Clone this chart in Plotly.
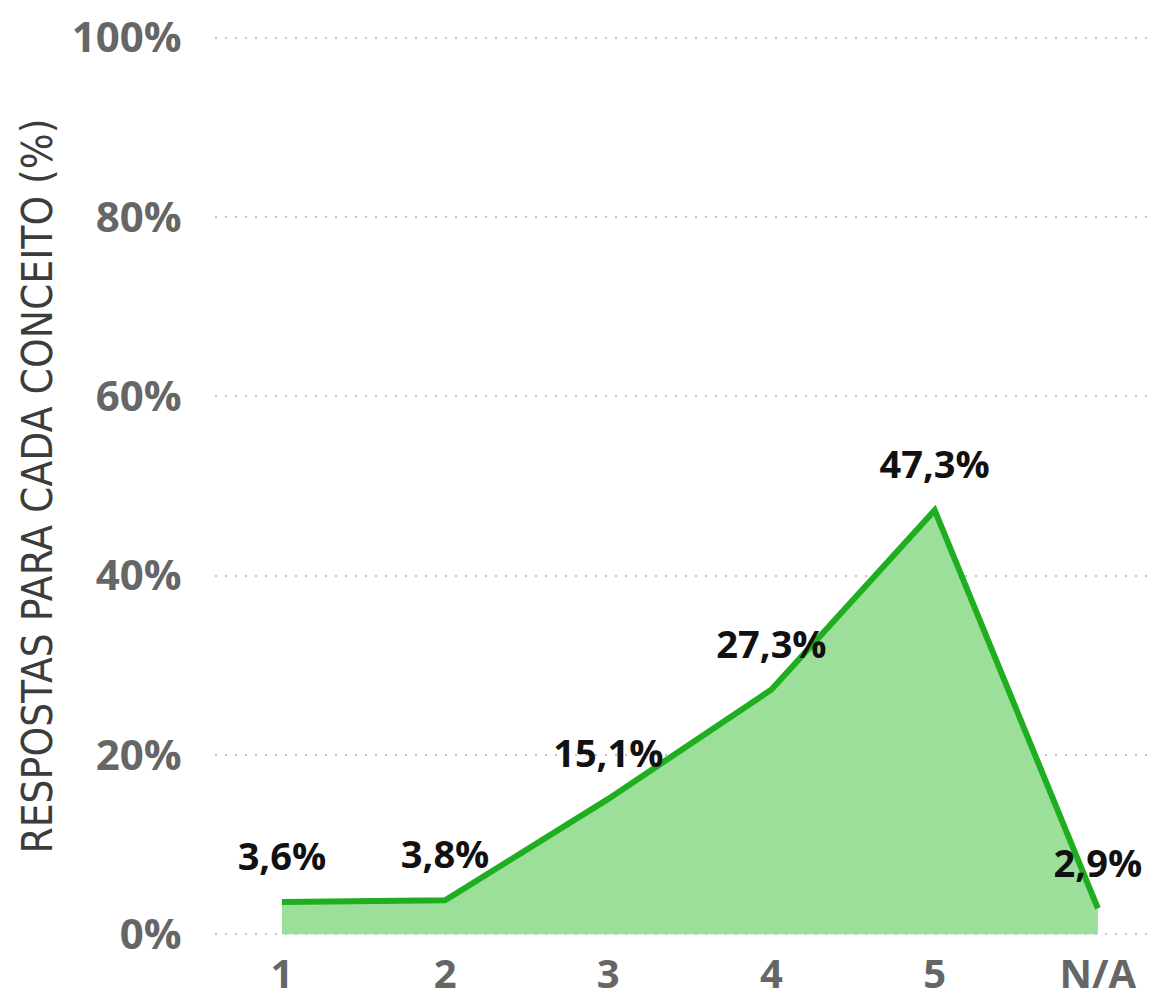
import plotly.graph_objects as go

categories = ["1", "2", "3", "4", "5", "N/A"]
values = [3.6, 3.8, 15.1, 27.3, 47.3, 2.9]
labels = ["3,6%", "3,8%", "15,1%", "27,3%", "47,3%", "2,9%"]
y_ticks = [0, 20, 40, 60, 80, 100]
y_tick_text = ["0%", "20%", "40%", "60%", "80%", "100%"]

fig = go.Figure()
fig.add_trace(go.Scatter(
    x=categories, y=values, mode="lines+markers+text",
    text=labels, textposition="top center",
    textfont=dict(family="Open Sans", size=38, color="#111111", weight="bold"),
    line=dict(color="#1fae1f", width=6),
    marker=dict(size=34, color="rgba(0,0,0,0)"),
    fill="tozeroy", fillcolor="rgba(155,223,155,1)",
    cliponaxis=False, hoverinfo="skip",
))

fig.update_layout(
    width=1153, height=991,
    margin=dict(l=207, r=6, t=27, b=62),
    paper_bgcolor="white", plot_bgcolor="white",
    showlegend=False,
    font=dict(family="Open Sans"),
)
fig.update_xaxes(
    type="category", range=[-0.41, 5.35],
    showgrid=False, zeroline=False, showline=False,
    ticks="outside", ticklen=2, tickcolor="rgba(0,0,0,0)",
    tickfont=dict(family="Open Sans", size=40, color="#666666", weight="bold"),
    ticklabeloverflow="allow",
    automargin=False,
)
fig.update_yaxes(
    range=[-0.3, 100.3], tickvals=y_ticks, ticktext=y_tick_text,
    showgrid=True, gridcolor="#c4c4c4", gridwidth=2, griddash="2px,8px",
    zeroline=False, showline=False,
    ticks="outside", ticklen=24, tickcolor="rgba(0,0,0,0)",
    tickfont=dict(family="Open Sans", size=42, color="#666666", weight="bold"),
    ticklabeloverflow="allow",
    title=dict(text="RESPOSTAS PARA CADA CONCEITO (%)", standoff=6,
               font=dict(family="Liberation Sans Narrow, DejaVu Sans Condensed, Roboto", size=42, color="#3c3c3c")),
    automargin=False,
)

fig.write_html("out.html")
